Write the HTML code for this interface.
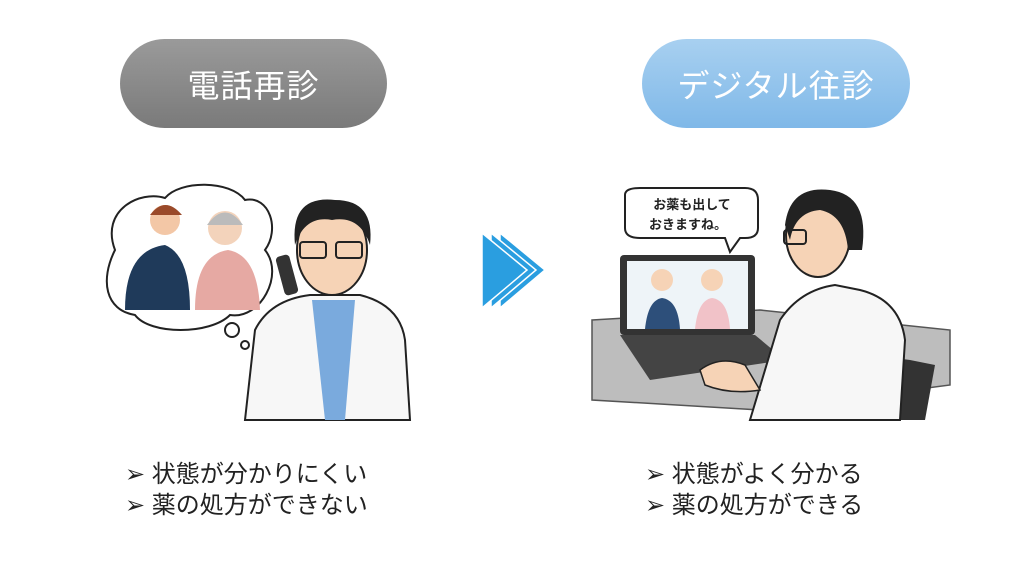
<!DOCTYPE html>
<html><head><meta charset="utf-8"><style>
body{margin:0;width:1024px;height:576px;background:#fff;position:relative;overflow:hidden;font-family:"Liberation Sans","Noto Sans CJK JP",sans-serif}
.pill{position:absolute;top:39px;height:89px;border-radius:45px;color:#fff;font-size:32px;display:flex;align-items:center;justify-content:center;letter-spacing:1px}
.l{left:120px;width:267px;background:linear-gradient(#9a9a9a,#7a7a7a)}
.r{left:642px;width:268px;background:linear-gradient(#a8d0f0,#7fb8e8)}
.txt{position:absolute;font-size:24px;line-height:31px;color:#222}
</style></head><body>
<div class="pill l">電話再診</div>
<div class="pill r">デジタル往診</div>
<svg width="1024" height="576" style="position:absolute;left:0;top:0">
<path d="M115 250 C100 210 140 190 165 198 C180 180 230 180 245 200 C270 195 280 230 265 250 C285 275 260 320 230 315 C210 335 150 335 135 315 C105 310 100 280 115 250Z" fill="#fff" stroke="#222" stroke-width="2"/>
<circle cx="232" cy="330" r="7" fill="#fff" stroke="#222" stroke-width="2"/>
<circle cx="245" cy="345" r="4" fill="#fff" stroke="#222" stroke-width="2"/>
<circle cx="165" cy="220" r="15" fill="#f3c7a6"/><path d="M150 215 Q165 195 182 215" fill="#9a4a2a"/>
<path d="M125 310 Q125 250 165 245 Q190 255 190 310Z" fill="#1f3a5a"/>
<circle cx="225" cy="228" r="17" fill="#f3d3bb"/><path d="M207 225 Q225 200 243 225" fill="#bbb"/>
<path d="M195 310 Q195 255 228 250 Q258 255 260 310Z" fill="#e6a9a3"/>
<path d="M245 420 L255 330 Q270 300 310 295 L360 295 Q400 305 405 340 L410 420Z" fill="#f7f7f7" stroke="#222" stroke-width="2"/>
<path d="M312 300 L325 420 L345 420 L355 300Z" fill="#7aaadd"/>
<ellipse cx="332" cy="250" rx="35" ry="45" fill="#f6d3b6" stroke="#222" stroke-width="2"/>
<path d="M295 245 Q290 195 335 200 Q375 200 370 245 Q360 215 332 220 Q305 215 295 245Z" fill="#222"/>
<rect x="300" y="242" width="26" height="16" rx="3" fill="none" stroke="#222" stroke-width="2"/>
<rect x="336" y="242" width="26" height="16" rx="3" fill="none" stroke="#222" stroke-width="2"/>
<rect x="280" y="255" width="14" height="40" rx="4" fill="#333" transform="rotate(-15 287 275)"/>
<!-- arrow -->
<g fill="#2a9ee0" stroke="#fff" stroke-width="1.5">
<path d="M500 233 L545 270 L500 308Z"/>
<path d="M491 233 L536 270 L491 308Z"/>
<path d="M482 233 L527 270 L482 308Z"/>
</g>
<path d="M592 320 L760 310 L950 330 L950 385 L760 410 L592 400Z" fill="#bdbdbd" stroke="#555" stroke-width="1.5"/>
<rect x="620" y="255" width="135" height="80" rx="4" fill="#333"/>
<rect x="627" y="261" width="121" height="68" fill="#eef4f8"/>
<circle cx="662" cy="280" r="11" fill="#f6d3b6"/><path d="M645 329 Q648 300 662 298 Q678 300 680 329Z" fill="#2d4f7a"/>
<circle cx="712" cy="280" r="11" fill="#f6d3b6"/><path d="M695 329 Q698 300 712 298 Q728 300 730 329Z" fill="#f1c2c8"/>
<path d="M620 335 L755 335 L785 360 L650 380Z" fill="#444"/>
<path d="M625 195 Q625 188 640 188 L745 188 Q758 188 758 200 L758 228 Q758 238 745 238 L740 238 L730 252 L725 238 L640 238 Q625 238 625 228Z" fill="#fff" stroke="#222" stroke-width="2"/>
<text x="692" y="209" font-size="13" font-weight="bold" text-anchor="middle" fill="#222" font-family="Liberation Sans,Noto Sans CJK JP,sans-serif">お薬も出して</text>
<text x="688" y="229" font-size="13" font-weight="bold" text-anchor="middle" fill="#222" font-family="Liberation Sans,Noto Sans CJK JP,sans-serif">おきますね。</text>
<path d="M860 420 L870 370 Q880 355 910 360 L935 365 L925 420Z" fill="#333"/>
<path d="M750 420 L780 320 Q800 290 835 285 L860 290 Q900 300 905 340 L900 420Z" fill="#f7f7f7" stroke="#222" stroke-width="2"/>
<path d="M700 370 Q720 355 745 365 L760 390 Q730 395 705 385Z" fill="#f6d3b6" stroke="#222" stroke-width="1.5"/>
<ellipse cx="818" cy="235" rx="32" ry="42" fill="#f6d3b6" stroke="#222" stroke-width="2"/>
<path d="M785 225 Q790 185 830 190 Q870 195 862 250 L848 250 Q845 215 820 210 Q795 212 790 240Z" fill="#222"/>
<rect x="784" y="230" width="22" height="14" rx="3" fill="none" stroke="#222" stroke-width="2"/>
</svg>
<div class="txt" style="left:125px;top:459px">➢ 状態が分かりにくい<br>➢ 薬の処方ができない</div>
<div class="txt" style="left:645px;top:459px">➢ 状態がよく分かる<br>➢ 薬の処方ができる</div>
</body></html>
